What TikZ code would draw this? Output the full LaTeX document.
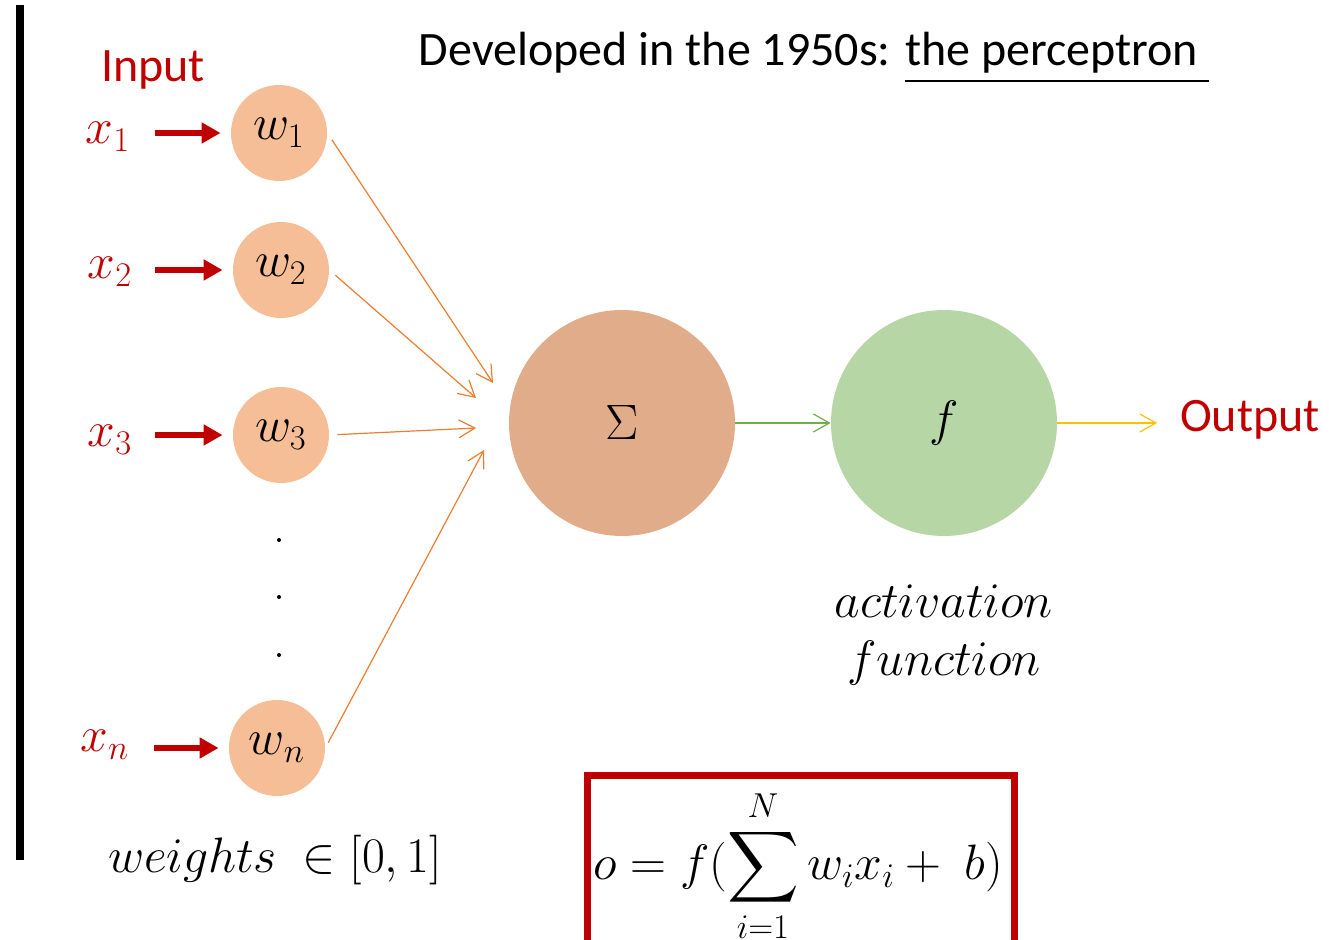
\documentclass[tikz,border=0pt]{standalone}
\usepackage{fontspec}
\setmainfont{Carlito}
\usepackage{amsmath}
\usetikzlibrary{arrows.meta, positioning, calc}
\definecolor{myred}{RGB}{192,0,0}
\definecolor{wpeach}{RGB}{245,190,151}
\definecolor{sumtan}{RGB}{225,172,137}
\definecolor{actgreen}{RGB}{183,214,165}
\definecolor{lineorange}{RGB}{237,125,49}
\definecolor{linegreen}{RGB}{112,173,71}
\definecolor{lineyellow}{RGB}{255,192,0}
\tikzset{
  weight/.style={circle, fill=wpeach, minimum size=48pt, inner sep=0pt,
    font=\fontsize{26}{30}\selectfont},
  unit/.style={circle, minimum size=113pt, inner sep=0pt,
    font=\fontsize{24}{28}\selectfont},
  xlabel/.style={text=myred, inner sep=0pt, font=\fontsize{26}{30}\selectfont},
  redtext/.style={text=myred, font=\fontsize{24}{28}\selectfont},
  dotmark/.style={circle, fill=black, minimum size=2pt, inner sep=0pt},
  inarrow/.style={-{Triangle[length=9.5pt,width=10pt]}, line width=3pt, color=myred},
  wline/.style={-{Straight Barb[length=8pt,width=9pt]}, line width=0.6pt, color=lineorange},
  sline/.style={-{Straight Barb[length=8pt,width=9pt]}, line width=0.6pt, color=linegreen},
  oline/.style={-{Straight Barb[length=8pt,width=9pt]}, line width=0.6pt, color=lineyellow}
}
\begin{document}
\begin{tikzpicture}[x=0.5pt, y=-0.5pt]
  \useasboundingbox (0,0) rectangle (1329,940);
  % Left rule
  \draw[line width=4pt] (20,5) -- (20,860);

  % Title
  \node (title) at (814,58) {\fontsize{24}{28}\selectfont Developed in the 1950s: \underline{the perceptron\ }};

  % Inputs and weights
  \node[redtext] (in) at (153,70) {Input};
  \node[weight] (w1) at (279,133) {$w_1$};
  \node[weight] (w2) at (281,270) {$w_2$};
  \node[weight] (w3) at (281,435) {$w_3$};
  \node[weight] (wn) at (277,748) {$w_n$};
  \node[xlabel] (x1) at (108,137) {$x_1$};
  \node[xlabel] (x2) at (110,272) {$x_2$};
  \node[xlabel] (x3) at (110,440) {$x_3$};
  \node[xlabel] (xn) at (105,745) {$x_n$};
  \foreach \y [count=\i] in {540,597,655}
    \node[dotmark] (d\i) at (279,\y) {};

  \draw[inarrow] (x1.east |- w1.west) ++(12pt,0) -- ($(w1.west)+(-5pt,0)$);
  \draw[inarrow] (x2.east |- w2.west) ++(11pt,0) -- ($(w2.west)+(-5pt,0)$);
  \draw[inarrow] (x3.east |- w3.west) ++(11pt,0) -- ($(w3.west)+(-5pt,0)$);
  \draw[inarrow] (xn.east |- wn.west) ++(12pt,0) -- ($(wn.west)+(-5pt,0)$);

  % Summation and activation
  \node[unit, fill=sumtan] (sum) at (622,423) {$\Sigma$};
  \node[unit, fill=actgreen] (act) at (944,423) {$f$};
  \node[redtext] (out) at (1250,420) {Output};

  \coordinate (s1) at (493,383);
  \coordinate (s2) at (476,398);
  \coordinate (s3) at (476,428);
  \coordinate (s4) at (484,450);
  \draw[wline, shorten <=4pt] (w1.east) -- (s1);
  \draw[wline, shorten <=4pt] (w2.east) -- (s2);
  \draw[wline, shorten <=4pt] (w3.east) -- (s3);
  \draw[wline, shorten <=3pt] (wn.east) -- (s4);

  \draw[sline] (sum) -- (act);
  \draw[oline, shorten >=8pt] (act.east) -- (act.east -| out.west);

  % Labels
  \node[align=center, font=\fontsize{26}{29}\selectfont] (actlbl) at (944,635) {$activation$\\$function$};
  \node[font=\fontsize{26}{30}\selectfont] (wlbl) at (275,860) {$weights\ \in [0,1]$};

  % Output formula
  \begin{scope}
    \clip (0,0) rectangle (1329,940);
    \draw[myred, line width=3.5pt] (587,960) rectangle (1014,776);
  \end{scope}
  \node[font=\fontsize{26}{30}\selectfont] (formula) at (798,866) {$\displaystyle o = f(\sum_{i=1}^{N} w_i x_i +\ b)$};
\end{tikzpicture}
\end{document}
